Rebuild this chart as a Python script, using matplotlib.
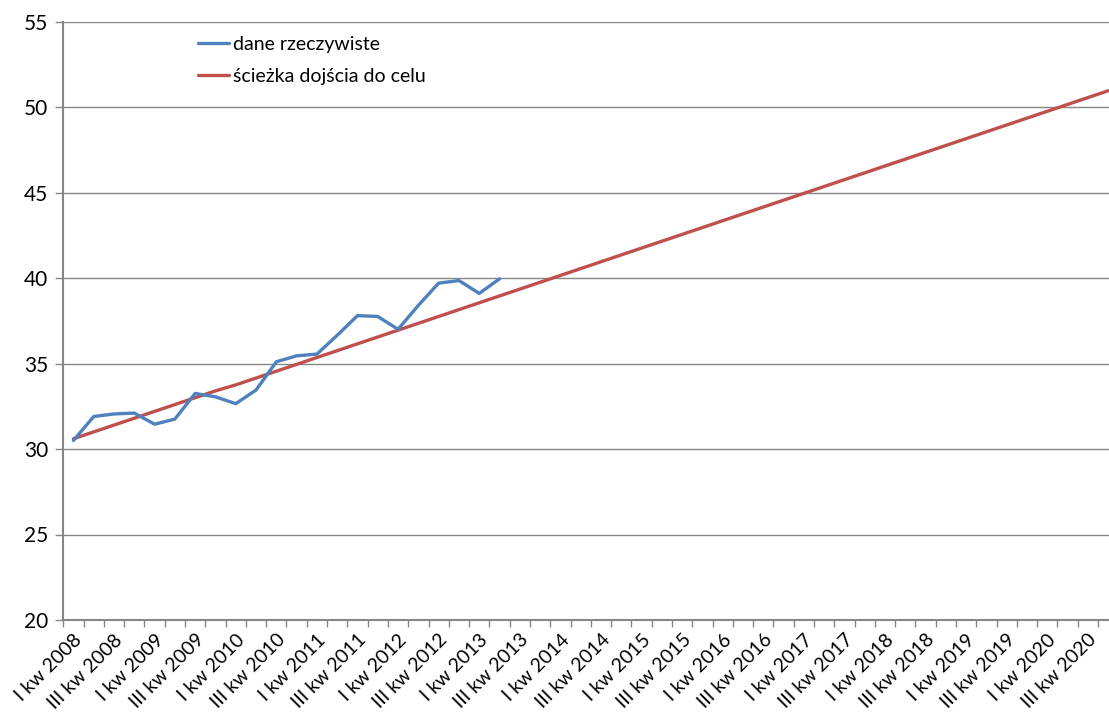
import matplotlib
matplotlib.use("Agg")
import matplotlib.pyplot as plt
from matplotlib.ticker import FixedLocator

# quarters I kw 2008 .. IV kw 2020
roman = ["I", "II", "III", "IV"]
quarters = [f"{q} kw {y}" for y in range(2008, 2021) for q in roman]

# dane rzeczywiste (I kw 2008 .. II kw 2013)
actual = [30.5, 31.9, 32.05, 32.1, 31.45, 31.75, 33.25, 33.05, 32.65, 33.45, 35.1,
          35.45, 35.55, 36.65, 37.8, 37.75, 37.0, 38.4, 39.7, 39.85, 39.1, 39.95]

# ścieżka dojścia do celu
target = [30.6, 31.0, 31.4, 31.8, 32.2, 32.6, 33.0, 33.4, 33.75, 34.15, 34.55, 34.95, 35.35,
          35.75, 36.15, 36.55, 36.95, 37.35, 37.75, 38.15, 38.55, 38.95, 39.35, 39.75,
          40.15, 40.55, 40.95, 41.35, 41.75, 42.15, 42.55, 42.95, 43.35, 43.75, 44.15,
          44.55, 44.95, 45.35, 45.75, 46.15, 46.55, 46.95, 47.35, 47.75, 48.15, 48.55,
          48.95, 49.35, 49.75, 50.15, 50.55, 50.95]

plt.rcParams['font.family'] = ['Lato', 'DejaVu Sans']

grey = '#868686'
fig = plt.figure(figsize=(11.09, 7.15), dpi=100)
ax = fig.add_axes([63.3 / 1109, 95 / 715, 1 - 63.3 / 1109, (620 - 21.5) / 715])

xs_actual = list(range(len(actual)))
xs_target = list(range(len(target)))
ax.plot(xs_target, target, color='#C0504D', lw=2.4, solid_joinstyle='round',
        solid_capstyle='round', label='ścieżka dojścia do celu', zorder=3)
ax.plot(xs_actual, actual, color='#4F81BD', lw=2.4, solid_joinstyle='round',
        solid_capstyle='round', label='dane rzeczywiste', zorder=4)

ax.set_ylim(20, 55)
ax.set_xlim(-0.5, 51.04)
ax.set_yticks(range(20, 56, 5))
ax.yaxis.grid(True, color=grey, lw=1)
ax.set_axisbelow(True)

# tick marks on category boundaries, labels on every second category
ax.xaxis.set_major_locator(FixedLocator([k - 0.5 for k in range(len(quarters) + 1)]))
ax.xaxis.set_major_formatter(plt.NullFormatter())
ax.xaxis.set_minor_locator(FixedLocator(list(range(0, len(quarters), 2))))
ax.set_xticklabels([quarters[i] for i in range(0, len(quarters), 2)], minor=True,
                   rotation=45, ha='right', va='top', rotation_mode='anchor', fontsize=14)
ax.tick_params(axis='x', which='major', length=5, color=grey, width=1)
ax.tick_params(axis='x', which='minor', length=0, pad=8)
ax.tick_params(axis='y', length=6, color=grey, width=1, labelsize=15, pad=5)

for s in ['top', 'right']:
    ax.spines[s].set_visible(False)
for s in ['left', 'bottom']:
    ax.spines[s].set_color(grey)
    ax.spines[s].set_linewidth(1.5)

handles, labels = ax.get_legend_handles_labels()
fig.legend(handles[::-1], labels[::-1], loc='upper left', bbox_to_anchor=(198 / 1109, 1 - 36 / 715),
           frameon=False, fontsize=14, handlelength=1.6, handletextpad=0.2,
           labelspacing=0.75, borderpad=0, borderaxespad=0)

fig.savefig('out.png', dpi=100)
